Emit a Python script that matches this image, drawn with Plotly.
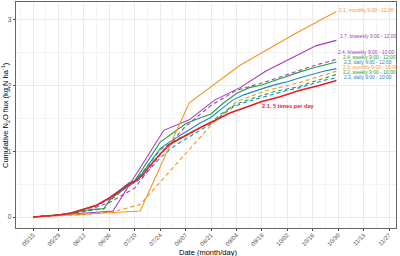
import pandas as pd
import plotly.graph_objects as go

YEAR = "2017"

# ---------------- data ----------------
orange_solid_dates = ["05/15", "06/14", "07/13", "08/09", "09/06", "10/05", "10/29"]
orange_solid_vals = [0, 0.04, 0.09, 1.74, 2.31, 2.77, 3.13]

orange_dash_dates = ["05/15", "06/14", "06/28", "07/13", "08/21", "09/04", "09/20", "10/09", "10/29"]
orange_dash_vals = [0, 0.04, 0.08, 0.19, 1.40, 1.76, 1.92, 2.05, 2.22]

purple_solid_dates = ["05/15", "05/29", "06/14", "06/28", "07/26", "08/09", "08/23", "09/06",
                      "09/20", "10/04", "10/18", "10/29"]
purple_solid_vals = [0, 0.03, 0.06, 0.09, 1.32, 1.48, 1.78, 1.97, 2.22, 2.42, 2.61, 2.69]

purple_dash_dates = ["05/15", "05/29", "06/12", "06/26", "07/10", "07/24", "08/07", "08/21",
                     "09/04", "09/18", "10/02", "10/16", "10/29"]
purple_dash_vals = [0, 0.03, 0.08, 0.22, 0.44, 0.95, 1.38, 1.70, 1.93, 2.04, 2.17, 2.30, 2.40]

weekly_dates = ["05/15", "05/22", "05/29", "06/05", "06/12", "06/19", "06/23", "06/26", "07/03",
                "07/10", "07/17", "07/24", "07/31", "08/07", "08/14", "08/21", "08/28", "09/04",
                "09/11", "09/18", "09/25", "10/02", "10/09", "10/16", "10/23", "10/29"]
green_solid_vals = [0, 0.01, 0.03, 0.05, 0.10, 0.12, 0.13, 0.25, 0.42, 0.55, 0.85, 1.14, 1.28,
                    1.42, 1.50, 1.57, 1.74, 1.88, 1.97, 2.01, 2.08, 2.15, 2.21, 2.27, 2.32, 2.36]
green_dash_vals = [0, 0.01, 0.03, 0.05, 0.09, 0.11, 0.12, 0.24, 0.40, 0.53, 0.78, 1.02, 1.15,
                   1.25, 1.35, 1.44, 1.60, 1.72, 1.79, 1.85, 1.91, 1.95, 1.99, 2.06, 2.12, 2.17]

daily_dates = ["05/15", "05/22", "05/29", "06/05", "06/12", "06/19", "06/26", "07/03", "07/07",
               "07/10", "07/14", "07/19", "07/24", "07/29", "08/03", "08/09", "08/15", "08/21",
               "08/27", "09/02", "09/08", "09/14", "09/20", "09/26", "10/02", "10/09", "10/16",
               "10/22", "10/29"]
blue_solid_vals = [0, 0.01, 0.03, 0.06, 0.12, 0.18, 0.29, 0.43, 0.52, 0.55, 0.66, 0.85, 1.04,
                   1.14, 1.23, 1.33, 1.43, 1.52, 1.65, 1.78, 1.86, 1.92, 1.97, 2.02, 2.06, 2.12,
                   2.18, 2.22, 2.26]
blue_dash_vals = [0, 0.01, 0.03, 0.06, 0.11, 0.17, 0.27, 0.40, 0.49, 0.52, 0.60, 0.75, 0.90,
                  1.02, 1.12, 1.22, 1.32, 1.42, 1.55, 1.67, 1.74, 1.79, 1.84, 1.89, 1.93, 1.97,
                  2.03, 2.08, 2.12]

red_dates = ["05/15", "05/22", "05/29", "06/05", "06/12", "06/19", "06/26", "07/03", "07/07",
             "07/10", "07/14", "07/18", "07/24", "07/29", "08/03", "08/11", "08/17", "08/24",
             "08/31", "09/10", "09/18", "09/28", "10/09", "10/19", "10/29"]
red_vals = [0, 0.01, 0.03, 0.06, 0.12, 0.18, 0.29, 0.42, 0.51, 0.54, 0.63, 0.77, 0.96, 1.10,
            1.18, 1.30, 1.39, 1.48, 1.58, 1.68, 1.76, 1.83, 1.93, 2.00, 2.08]

x_tick_labels = ["05/15", "05/29", "06/12", "06/26", "07/10", "07/24", "08/07", "08/21",
                 "09/04", "09/18", "10/02", "10/16", "10/30", "11/13", "11/27"]
y_ticks = [0, 1, 2, 3]

ORANGE, PURPLE, GREEN, BLUE, RED = "#F7941D", "#A23BBE", "#22A045", "#1E88C7", "#EE1C1C"

# label text, colour, anchor (date, value) for the right-hand labels
labels = [
    ("2.1, monthly 9:00 - 12:00", ORANGE, "10/30 00:00", 3.152),
    ("2.7, biweekly 9:00 - 12:00", PURPLE, "10/30 12:00", 2.746),
    ("2.4, biweekly 9:00 - 10:00", PURPLE, "10/29 10:00", 2.502),
    ("2.4, weekly 9:00 - 12:00", GREEN, "11/01 05:00", 2.426),
    ("2.3, daily 9:00 - 12:00", BLUE, "11/01 17:00", 2.350),
    ("2.3, monthly 9:00 - 10:00", ORANGE, "11/01 05:00", 2.273),
    ("2.2, weekly 9:00 - 10:00", GREEN, "11/01 05:00", 2.197),
    ("2.2, daily 9:00 - 10:00", BLUE, "11/01 17:00", 2.121),
]
red_label = ("2.1, 5 times per day", RED, "10/02 10:00", 1.69)

# ---------------- figure ----------------
def d(lst):
    return [pd.to_datetime(YEAR + "/" + s) for s in lst]

DASH = "4px,3px"
series = [
    (orange_dash_dates, orange_dash_vals, ORANGE, DASH, 1.1),
    (weekly_dates, green_dash_vals, GREEN, DASH, 1.1),
    (daily_dates, blue_dash_vals, BLUE, DASH, 1.1),
    (purple_dash_dates, purple_dash_vals, PURPLE, DASH, 1.1),
    (daily_dates, blue_solid_vals, BLUE, "solid", 1.1),
    (weekly_dates, green_solid_vals, GREEN, "solid", 1.1),
    (purple_solid_dates, purple_solid_vals, PURPLE, "solid", 1.1),
    (orange_solid_dates, orange_solid_vals, ORANGE, "solid", 1.1),
    (red_dates, red_vals, RED, "solid", 1.6),
]

fig = go.Figure()
for dates, vals, col, dash, w in series:
    fig.add_trace(go.Scatter(x=d(dates), y=vals, mode="lines",
                             line=dict(color=col, width=w, dash=dash),
                             showlegend=False, hoverinfo="skip"))

FONT = "Liberation Sans, Arial, sans-serif"
for text, col, xd, yv in labels:
    fig.add_annotation(x=pd.to_datetime(YEAR + "/" + xd), y=yv, text=text, showarrow=False,
                       xanchor="left", yanchor="middle", borderpad=0,
                       font=dict(family=FONT, size=4.95, color=col))
fig.add_annotation(x=pd.to_datetime(YEAR + "/" + red_label[2]), y=red_label[3],
                   text="<b>" + red_label[0] + "</b>", showarrow=False,
                   xanchor="center", yanchor="middle", borderpad=0,
                   font=dict(family=FONT, size=5.6, color=red_label[1]))

# axis titles
fig.add_annotation(xref="paper", yref="paper", x=0, y=0.5, xshift=-11,
                   text="Cumulative N<sub>2</sub>O flux (kg N ha<sup>-1</sup>)",
                   textangle=-90, showarrow=False, xanchor="center", yanchor="middle",
                   font=dict(family=FONT, size=7.5, color="#000000"))
fig.add_annotation(xref="paper", yref="paper", x=0.505, y=0, yshift=-24,
                   text="Date (month/day)", showarrow=False,
                   xanchor="center", yanchor="middle",
                   font=dict(family=FONT, size=7.5, color="#000000"))

DAY = 86400000
fig.update_xaxes(
    type="date",
    range=[pd.to_datetime("2017-05-05 15:00"), pd.to_datetime("2017-11-30 20:00")],
    tickvals=d(x_tick_labels), ticktext=x_tick_labels, tickangle=-45,
    tickfont=dict(family=FONT, size=6.0, color="#4D4D4D"),
    ticklabelstandoff=-2,
    ticks="outside", ticklen=2.5, tickcolor="#4D4D4D", tickwidth=0.8,
    showgrid=True, gridcolor="#EBEBEB", gridwidth=0.8,
    minor=dict(tick0="2017-05-08", dtick=7 * DAY, showgrid=True,
               gridcolor="#F4F4F4", gridwidth=0.5, ticks=""),
    showline=True, mirror=True, linecolor="#666666", linewidth=0.9,
    zeroline=False, automargin=False,
)
fig.update_yaxes(
    range=[-0.1675, 3.274], tickvals=y_ticks, ticktext=[str(v) for v in y_ticks],
    tickfont=dict(family=FONT, size=6.5, color="#4D4D4D"),
    ticks="outside", ticklen=2.5, tickcolor="#4D4D4D", tickwidth=0.8,
    showgrid=True, gridcolor="#EBEBEB", gridwidth=0.8,
    minor=dict(dtick=0.5, tick0=0, showgrid=True, gridcolor="#F4F4F4",
               gridwidth=0.5, ticks=""),
    showline=True, mirror=True, linecolor="#666666", linewidth=0.9,
    zeroline=False, automargin=False,
)
fig.update_layout(
    width=400, height=256,
    margin=dict(l=16, r=4, t=2, b=28),
    paper_bgcolor="white", plot_bgcolor="white",
    font=dict(family=FONT),
)
fig.write_html("out.html", config={"displayModeBar": False},
               post_script="document.body.style.margin='0px';document.body.style.overflow='hidden';")
